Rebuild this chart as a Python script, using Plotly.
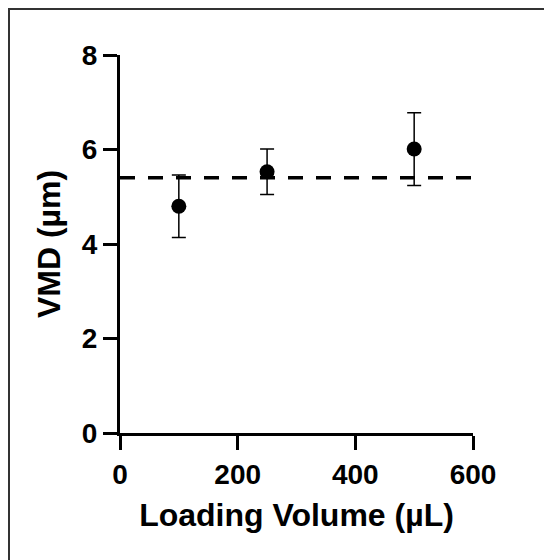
import plotly.graph_objects as go

# loading volume (uL) vs volume median diameter (um)
volume = [100, 250, 500]
vmd = [4.80, 5.53, 6.01]
vmd_sd = [0.66, 0.48, 0.77]
mean_vmd = 5.40

x_ticks = [0, 200, 400, 600]
y_ticks = [0, 2, 4, 6, 8]

FONT = 'Liberation Sans, Arial, sans-serif'

# page body adds an 8px offset, so plot box is laid out in figure coords
PLOT_L, PLOT_R, PLOT_T, PLOT_B = 112, 465, 47, 425

fig = go.Figure()

# dashed mean line across the whole axis range
fig.add_trace(go.Scatter(
    x=[x_ticks[0], x_ticks[-1]],
    y=[mean_vmd, mean_vmd],
    mode='lines',
    line=dict(color='black', width=3.5, dash='15px,13px'),
    hoverinfo='skip',
    showlegend=False,
))

fig.add_trace(go.Scatter(
    x=volume,
    y=vmd,
    mode='markers',
    marker=dict(color='black', size=15, symbol='circle'),
    error_y=dict(type='data', array=vmd_sd, visible=True,
                 color='black', thickness=1.5, width=7),
    showlegend=False,
))

axis_common = dict(
    showgrid=False,
    zeroline=False,
    showline=True,
    linecolor='black',
    linewidth=3,
    ticks='outside',
    ticklen=14,
    tickwidth=3,
    tickcolor='black',
    tickfont=dict(family=FONT, size=28, color='black', weight='bold'),
)

fig.update_xaxes(
    range=[0, 600],
    tickvals=x_ticks,
    title=dict(text='Loading Volume (µL)', standoff=16,
               font=dict(family=FONT, size=32, color='black', weight='bold')),
    **axis_common,
)
fig.update_yaxes(
    range=[0, 8],
    tickvals=y_ticks,
    title=dict(text='VMD (µm)', standoff=12,
               font=dict(family=FONT, size=32, color='black', weight='bold')),
    **axis_common,
)

# thin frame round the figure (only left/top edges are visible)
w = PLOT_R - PLOT_L
h = PLOT_B - PLOT_T
fig.add_shape(
    type='rect', xref='paper', yref='paper',
    x0=(1 - PLOT_L) / w, x1=(600 - PLOT_L) / w,
    y0=(PLOT_B - 600) / h, y1=(PLOT_B - 1) / h,
    line=dict(color='#333333', width=2),
)

fig.update_layout(
    width=552,
    height=560,
    margin=dict(l=PLOT_L, r=552 - PLOT_R, t=PLOT_T, b=560 - PLOT_B),
    plot_bgcolor='white',
    paper_bgcolor='white',
)

fig.write_html('out.html')
